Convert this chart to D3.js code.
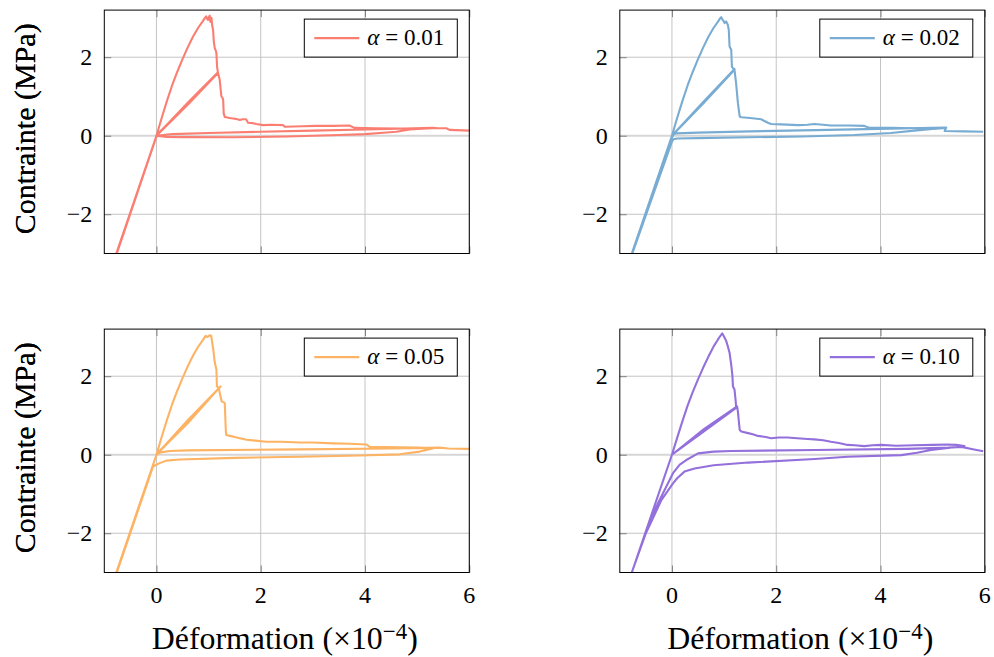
<!DOCTYPE html>
<html><head><meta charset="utf-8">
<script src="https://cdn.jsdelivr.net/npm/d3@7"></script>
<style>body{margin:0;background:#fff} svg{display:block}</style>
</head><body>
<svg id="c" width="994" height="657"></svg>
<script>
// ---------- data ----------
const xTicks = [0, 2, 4, 6];
const yTicks = [-2, 0, 2];
const xDomain = [-1, 6];
const yDomain = [-3, 3.2];
const alphaLabels = ["0.01", "0.02", "0.05", "0.10"];
const seriesColors = ["#fa7f72", "#79acd3", "#fdb364", "#9370db"];
const xLabel = "Déformation";
const yLabel = "Contrainte (MPa)";

const curve001 = [
 [0,0],[0.1,0.45],[0.2,0.88],[0.3,1.28],[0.4,1.63],[0.5,1.95],[0.6,2.25],[0.7,2.52],[0.8,2.75],[0.88,2.9],[0.93,3.0],[0.955,3.04],[0.975,2.97],[0.99,2.95],[1.005,3.02],[1.022,3.06],[1.035,2.9],[1.045,2.98],[1.055,3.0],[1.07,2.8],[1.086,2.7],[1.10,2.4],[1.118,2.23],[1.14,2.16],[1.15,2.1],[1.163,1.76],[1.18,1.6],
 [0.6,0.79],[0,0],[-0.77,-3.0],[0,0],[0.6,0.84],[1.18,1.62],[0.6,0.8],[0,0.01],[0.6,0.82],[1.18,1.6],
 [1.2,1.5],[1.214,1.42],[1.23,1.2],[1.246,1.0],[1.27,0.96],[1.28,0.9],[1.29,0.57],[1.31,0.48],[1.34,0.47],[1.4,0.45],[1.47,0.44],[1.52,0.43],[1.6,0.40],[1.65,0.42],[1.72,0.42],[1.757,0.33],[1.85,0.32],[1.917,0.3],[2.045,0.27],[2.2,0.28],[2.43,0.27],[2.46,0.23],[2.8,0.24],[3.07,0.25],[3.4,0.25],[3.7,0.26],[3.8,0.2],[4.2,0.19],[4.66,0.18],[5.0,0.19],[5.3,0.19],
 [5.1,0.18],[4.86,0.16],[4.6,0.1],[4.35,0.077],[4.0,0.04],[3.5,0.017],[2.5,-0.02],[1.47,-0.04],[0.5,-0.035],[0.19,-0.03],[0,0],[-0.765,-3.02],[0.005,0.0],
 [0.3,0.04],[1.0,0.07],[2.0,0.1],[3.0,0.13],[4.0,0.16],[5.3,0.2],[5.4,0.19],[5.56,0.19],[5.62,0.15],[6.0,0.13]
];
const curve002 = [
 [0,0],[0.1,0.45],[0.2,0.88],[0.3,1.28],[0.4,1.63],[0.5,1.95],[0.6,2.25],[0.7,2.52],[0.8,2.75],[0.88,2.9],[0.93,3.0],[0.946,3.02],[0.96,2.98],[0.98,2.94],[1.0,2.9],[1.01,2.87],[1.04,2.91],[1.07,2.83],[1.09,2.7],[1.105,2.27],[1.137,2.19],[1.15,1.76],[1.19,1.68],[1.2,1.68],
 [0.6,0.82],[0,0],[-0.77,-3.0],[0,0],[0.6,0.86],[1.2,1.7],[0.6,0.83],[0,0],[0.6,0.85],[1.2,1.68],
 [1.23,1.34],[1.265,0.83],[1.3,0.49],[1.33,0.47],[1.5,0.45],[1.71,0.42],[1.84,0.33],[1.9,0.3],[2.1,0.29],[2.42,0.27],[2.6,0.28],[2.73,0.3],[2.9,0.28],[3.05,0.26],[3.4,0.26],[3.69,0.25],[3.79,0.2],[4.2,0.2],[4.65,0.19],[5.2,0.2],[5.26,0.2],
 [5.0,0.17],[4.65,0.13],[4.2,0.07],[3.5,0.02],[2.5,-0.02],[1.46,-0.04],[0.5,-0.06],[0.1,-0.07],[0.03,-0.09],[0,-0.15],[-0.765,-3.02],[0,-0.05],[0.03,0.03],[0.08,0.06],
 [0.5,0.08],[1.5,0.11],[3.0,0.15],[4.2,0.18],[5.26,0.21],[5.23,0.12],[5.6,0.11],[5.97,0.1]
];
const curve005 = [
 [0,0],[0.1,0.45],[0.2,0.88],[0.3,1.28],[0.4,1.63],[0.5,1.95],[0.6,2.25],[0.7,2.52],[0.8,2.75],[0.88,2.9],[0.93,3.0],[0.946,3.03],[0.97,3.0],[0.99,3.01],[1.02,3.04],[1.05,3.03],[1.07,2.85],[1.09,2.68],[1.12,2.34],[1.15,2.17],[1.16,1.74],[1.2,1.7],
 [0.6,0.82],[0,0],[-0.77,-3.0],[0,0],[0.6,0.88],[1.23,1.74],[0.6,0.85],[0,0.01],[0.6,0.8],[1.2,1.7],
 [1.21,1.6],[1.25,1.36],[1.31,1.32],[1.33,0.63],[1.34,0.5],[1.41,0.48],[1.5,0.45],[1.6,0.42],[1.73,0.38],[1.9,0.36],[2.1,0.33],[2.4,0.33],[2.75,0.31],[3.0,0.31],[3.39,0.29],[3.7,0.28],[4.03,0.26],[4.09,0.2],[4.66,0.19],[5.0,0.18],[5.3,0.16],
 [5.05,0.08],[4.66,0.01],[3.9,-0.02],[2.75,-0.05],[1.5,-0.08],[0.447,-0.12],[0.19,-0.15],[0.05,-0.22],[-0.065,-0.3],[-0.765,-3.02],[0,0],
 [0.08,0.06],[0.255,0.094],[0.6,0.11],[2.75,0.137],[4.5,0.16],[5.43,0.18],[5.6,0.16],[6.0,0.15]
];
const curve010 = [
 [0,0],[0.1,0.43],[0.2,0.85],[0.3,1.25],[0.4,1.6],[0.5,1.92],[0.6,2.22],[0.7,2.5],[0.75,2.63],[0.8,2.76],[0.88,2.93],[0.93,3.03],[0.965,3.09],[0.99,3.03],[1.01,2.98],[1.04,2.9],[1.07,2.77],[1.105,2.6],[1.12,2.45],[1.14,2.26],[1.16,2.0],[1.17,1.74],[1.2,1.66],[1.22,1.4],[1.23,1.23],[1.25,1.21],
 [0.62,0.6],[0,0],[-0.77,-3.0],[0,0],[0.62,0.66],[1.25,1.23],
 [1.265,1.1],[1.28,0.89],[1.3,0.63],[1.33,0.59],[1.46,0.55],[1.55,0.52],[1.65,0.48],[1.8,0.45],[1.9,0.42],[2.05,0.44],[2.22,0.44],[2.4,0.42],[2.6,0.4],[2.73,0.39],[2.9,0.37],[3.05,0.33],[3.2,0.3],[3.37,0.25],[3.5,0.24],[3.69,0.22],[3.85,0.24],[4.01,0.25],[4.3,0.23],[4.65,0.24],[5.0,0.25],[5.29,0.26],[5.45,0.25],[5.61,0.22],
 [5.3,0.17],[4.97,0.12],[4.7,0.05],[4.4,-0.01],[3.37,-0.05],[2.74,-0.11],[1.46,-0.2],[0.8,-0.27],[0.435,-0.35],[0.24,-0.43],[0.1,-0.6],[0.02,-0.73],[-0.2,-1.15],[-0.5,-2.0],[-0.77,-3.0],
 [-0.5,-1.97],[-0.27,-1.24],[0.02,-0.47],[0.15,-0.25],[0.275,-0.135],[0.5,0.035],[0.8,0.08],[1.14,0.094],[2.74,0.12],[4.5,0.15],[5.3,0.18],[5.55,0.2],[5.77,0.14],[5.97,0.09]
];
const curves = [curve001, curve002, curve005, curve010];

// ---------- layout ----------
const W = 365, H = 243.4;
const lefts = [104.3, 619.8, 104.3, 619.8];
const tops = [10.1, 10.1, 329.1, 329.1];
const FONT = "'Liberation Serif', 'DejaVu Serif', serif";

const svg = d3.select("#c");

function fitWidth(sel, target) {
  const n = sel.node();
  const len = n.getComputedTextLength();
  const fs = parseFloat(sel.attr("font-size"));
  sel.attr("font-size", fs * target / len);
}

curves.forEach((data, i) => {
  const L = lefts[i], T = tops[i];
  const x = d3.scaleLinear().domain(xDomain).range([0, W]);
  const y = d3.scaleLinear().domain(yDomain).range([H, 0]);
  const g = svg.append("g").attr("transform", `translate(${L},${T})`);
  const bottomRow = i >= 2;

  // grid
  g.append("g").selectAll("line").data(xTicks).join("line")
    .attr("x1", d => x(d)).attr("x2", d => x(d)).attr("y1", 0).attr("y2", H)
    .attr("stroke", "#c4c4c4").attr("stroke-width", 1);
  g.append("g").selectAll("line").data(yTicks).join("line")
    .attr("y1", d => y(d)).attr("y2", d => y(d)).attr("x1", 0).attr("x2", W)
    .attr("stroke", d => d === 0 ? "#d6d6d6" : "#c4c4c4")
    .attr("stroke-width", d => d === 0 ? 1.8 : 1);

  // inner ticks (left, bottom, top)
  const yAx = g.append("g").call(d3.axisRight(y).tickValues(yTicks).tickSize(7).tickFormat(""));
  const xAxB = g.append("g").attr("transform", `translate(0,${H})`)
    .call(d3.axisTop(x).tickValues(xTicks).tickSize(7).tickFormat(""));
  const xAxT = g.append("g")
    .call(d3.axisBottom(x).tickValues(xTicks).tickSize(7).tickFormat(""));
  [yAx, xAxB, xAxT].forEach(a => { a.select(".domain").remove(); a.selectAll("line").attr("stroke", "#808080"); });

  // curve
  const clipId = "clip" + i;
  g.append("clipPath").attr("id", clipId).append("rect").attr("width", W).attr("height", H);
  g.append("path").datum(data)
    .attr("clip-path", `url(#${clipId})`)
    .attr("d", d3.line().x(d => x(d[0])).y(d => y(d[1])))
    .attr("fill", "none").attr("stroke", seriesColors[i])
    .attr("stroke-width", 2.1).attr("stroke-linejoin", "round");

  // frame
  g.append("rect").attr("width", W).attr("height", H)
    .attr("fill", "none").attr("stroke", "#000").attr("stroke-width", 1);

  // y tick labels
  g.append("g").selectAll("text").data(yTicks).join("text")
    .attr("x", -12).attr("y", d => y(d) + 8)
    .attr("text-anchor", "end").attr("font-family", FONT).attr("font-size", 24)
    .text(d => d < 0 ? "\u2212" + Math.abs(d) : d);

  // y label
  const yl = g.append("text")
    .attr("transform", `translate(${35 - L},${H / 2 - 3}) rotate(-90)`)
    .attr("text-anchor", "middle").attr("font-family", FONT).attr("font-size", 26)
    .text(yLabel);
  fitWidth(yl, 211);

  if (bottomRow) {
    g.append("g").selectAll("text").data(xTicks).join("text")
      .attr("x", d => x(d)).attr("y", H + 31)
      .attr("text-anchor", "middle").attr("font-family", FONT).attr("font-size", 24)
      .text(d => d);
    const xl = g.append("text").attr("x", W / 2 - 2).attr("y", H + 76.5)
      .attr("text-anchor", "middle").attr("font-family", FONT).attr("font-size", 26);
    xl.append("tspan").text(xLabel + " (\u00d710");
    xl.append("tspan").attr("dy", -10).attr("font-size", "0.72em").text("\u22124");
    xl.append("tspan").attr("dy", 10).text(")");
    fitWidth(xl, 266);
  }

  // legend
  const bx = W - 165, by = 9, bw = 153, bh = 38;
  const lg = g.append("g").attr("transform", `translate(${bx},${by})`);
  lg.append("rect").attr("width", bw).attr("height", bh)
    .attr("fill", "#fff").attr("stroke", "#000").attr("stroke-width", 1);
  lg.append("line").attr("x1", 10).attr("x2", 55).attr("y1", bh / 2).attr("y2", bh / 2)
    .attr("stroke", seriesColors[i]).attr("stroke-width", 2.1);
  const lt = lg.append("text").attr("x", 63).attr("y", bh / 2 + 6.5)
    .attr("font-family", FONT).attr("font-size", 19);
  lt.append("tspan").attr("font-style", "italic").text("\u03b1");
  lt.append("tspan").text(" = " + alphaLabels[i]);
  fitWidth(lt, 77);
});
</script>
</body></html>
